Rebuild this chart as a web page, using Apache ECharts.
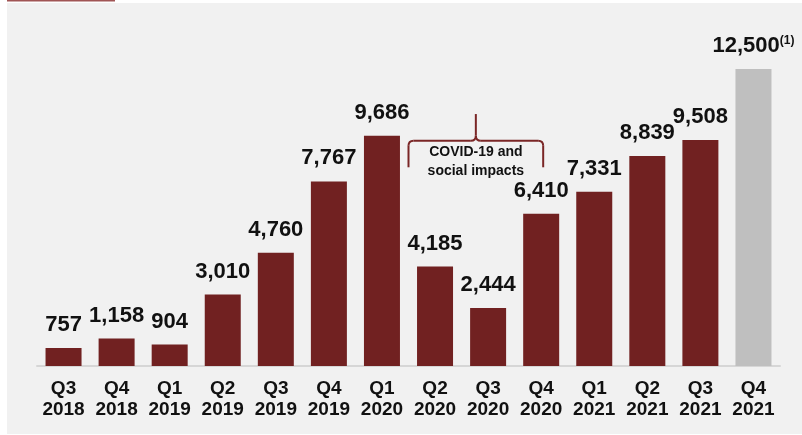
<!DOCTYPE html>
<html>
<head>
<meta charset="utf-8">
<script src="https://cdn.jsdelivr.net/npm/echarts@6/dist/echarts.min.js"></script>
<style>
  html, body { margin: 0; padding: 0; background: #ffffff; }
  #chart { width: 802px; height: 435px; }
</style>
</head>
<body>
<div id="chart"></div>
<script>
// Quarterly volumes, Q3 2018 – Q4 2021 (last quarter is a target)
const quarters = ['Q3', 'Q4', 'Q1', 'Q2', 'Q3', 'Q4', 'Q1', 'Q2', 'Q3', 'Q4', 'Q1', 'Q2', 'Q3', 'Q4'];
const years = ['2018', '2018', '2019', '2019', '2019', '2019', '2020', '2020', '2020', '2020', '2021', '2021', '2021', '2021'];
const values = [757, 1158, 904, 3010, 4760, 7767, 9686, 4185, 2444, 6410, 7331, 8839, 9508, 12500];
const footnotes = ['', '', '', '', '', '', '', '', '', '', '', '', '', '(1)'];
const isTarget = [false, false, false, false, false, false, false, false, false, false, false, false, false, true];

// Bracketed note over the pandemic quarters
const noteText = 'COVID-19 and\nsocial impacts';
const noteFrom = 7;   // Q2 2020
const noteTo = 9;     // Q4 2020
const noteLevels = { peak: 10600, bar: 9480, ends: 8360 };

const RED = '#712121';
const GREY = '#bfbfbf';
const FONT = '"Liberation Sans", Arial, sans-serif';

const categories = quarters.map((q, i) => q + '\n' + years[i]);
const fmt = v => v.toLocaleString('en-US');

const chart = echarts.init(document.getElementById('chart'), null, { renderer: 'canvas' });

const panel = [
  { type: 'rect', z: -10, silent: true, shape: { x: 7, y: 3, width: 795, height: 431 }, style: { fill: '#f1f1f1' } },
  { type: 'rect', z: -10, silent: true, shape: { x: 7, y: 0, width: 108, height: 1.5 }, style: { fill: '#a05454' } }
];

const option = {
  backgroundColor: '#ffffff',
  animation: false,
  grid: { left: 37, right: 22, top: 57, bottom: 69, containLabel: false },
  xAxis: {
    type: 'category',
    data: categories,
    axisLine: { show: true, lineStyle: { color: '#d6d6d6', width: 2 } },
    axisTick: { show: false },
    axisLabel: {
      interval: 0,
      margin: 12,
      color: '#111111',
      fontFamily: FONT,
      fontWeight: 'bold',
      fontSize: 19,
      lineHeight: 21
    }
  },
  yAxis: {
    type: 'value',
    min: 0,
    max: 13000,
    show: false,
    splitLine: { show: false }
  },
  series: [{
    type: 'bar',
    barWidth: 36,
    data: values.map((v, i) => ({
      value: v,
      itemStyle: { color: isTarget[i] ? GREY : RED }
    })),
    label: {
      show: true,
      position: 'top',
      distance: 12,
      color: '#111111',
      fontFamily: FONT,
      fontWeight: 'bold',
      fontSize: 22,
      formatter: p => {
        const note = footnotes[p.dataIndex];
        return note ? '{v|' + fmt(p.value) + '}{sup|' + note + '}' : fmt(p.value);
      },
      rich: {
        v: { fontFamily: FONT, fontWeight: 'bold', fontSize: 22, color: '#111111' },
        sup: { fontFamily: FONT, fontWeight: 'bold', fontSize: 12, color: '#111111', verticalAlign: 'top', padding: [0, 0, 9, 0] }
      }
    }
  }],
  graphic: panel
};

chart.setOption(option);

// Curly brace and its caption, placed through the chart's own scales
(function drawNote() {
  const c0 = chart.convertToPixel({ xAxisIndex: 0 }, noteFrom);
  const c1 = chart.convertToPixel({ xAxisIndex: 0 }, noteFrom + 1);
  const band = c1 - c0;
  const left = c0 - band / 2;
  const right = chart.convertToPixel({ xAxisIndex: 0 }, noteTo) + 2;
  const mid = (left + right) / 2;
  const yPeak = chart.convertToPixel({ yAxisIndex: 0 }, noteLevels.peak);
  const yBar = chart.convertToPixel({ yAxisIndex: 0 }, noteLevels.bar);
  const yEnd = chart.convertToPixel({ yAxisIndex: 0 }, noteLevels.ends);
  const r = 5;
  const stroke = { stroke: '#7a2626', lineWidth: 2, fill: null };

  const line = (x1, y1, x2, y2) => ({ type: 'line', z: 10, silent: true, shape: { x1, y1, x2, y2 }, style: stroke });
  const curve = (x1, y1, cx, cy, x2, y2) => ({
    type: 'bezierCurve', z: 10, silent: true,
    shape: { x1, y1, cpx1: cx, cpy1: cy, x2, y2 }, style: stroke
  });

  const brace = [
    line(left, yEnd, left, yBar + r),
    curve(left, yBar + r, left, yBar, left + r, yBar),
    line(left + r, yBar, mid - r, yBar),
    curve(mid - r, yBar, mid, yBar, mid, yBar - r),
    curve(mid, yBar - r, mid, yBar, mid + r, yBar),
    line(mid, yBar - r, mid, yPeak),
    line(mid + r, yBar, right - r, yBar),
    curve(right - r, yBar, right, yBar, right, yBar + r),
    line(right, yBar + r, right, yEnd)
  ];

  const caption = {
    type: 'text',
    z: 10,
    silent: true,
    x: mid,
    y: yBar + 2,
    style: {
      text: noteText,
      fill: '#111111',
      font: 'bold 14px ' + FONT,
      align: 'center',
      verticalAlign: 'top',
      lineHeight: 19
    }
  };

  chart.setOption({ graphic: panel.concat(brace, [caption]) });
})();
</script>
</body>
</html>
